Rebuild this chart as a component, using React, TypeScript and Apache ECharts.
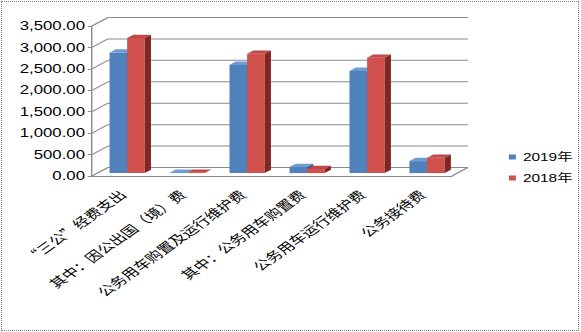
import React, { useEffect, useRef } from "react";
import * as echarts from "echarts";

// Spending items and amounts (万元) for the two years
const categories = [
  "“三公”经费支出",
  "其中：因公出国（境）费",
  "公务用车购置及运行维护费",
  "其中：公务用车购置费",
  "公务用车运行维护费",
  "公务接待费",
];
const values2019 = [2810, 5, 2525, 140, 2385, 280];
const values2018 = [3150, 8, 2785, 95, 2690, 357];
const seriesNames = ["2019年", "2018年"];
const yMax = 3500;
const yStep = 500;

// The whole chart is drawn narrow and then stretched sideways
const STRETCH = 1.4;
const OUT_W = 581;
const OUT_H = 332;
const IN_W = OUT_W / STRETCH;

// 3D look: depth of the back wall, bar inset and bar depth
const WALL_DX = 11.4;
const WALL_DY = -8.5;
const BAR_FX = 3.7;
const BAR_FY = -2.9;
const BAR_DX = 4.4;
const BAR_DY = -3.3;

const FONT = "'Liberation Sans', Arial, 'Noto Sans CJK SC', sans-serif";
const CJK_FONT = "'Noto Sans CJK SC', sans-serif";
const GRID_COLOR = "#8a8a8a";

const palettes = [
  { front: "#4F81BD", top: "#6f9bd3", side: "#345f93" },
  { front: "#D0504D", top: "#c04845", side: "#7e2725" },
];

const yTicks: number[] = [];
for (let v = 0; v <= yMax; v += yStep) yTicks.push(v);

function barRenderer(seriesIdx: number) {
  const pal = palettes[seriesIdx];
  return (params: any, api: any) => {
    const i = api.value(0);
    const v = api.value(1);
    const base = api.coord([i, 0]);
    const top = api.coord([i, v]);
    const band = api.size([1, 0])[0];
    const w = band * 0.294;
    const x0 = base[0] + (seriesIdx === 0 ? -w : 0) + BAR_FX;
    const x1 = x0 + w;
    const yb = base[1] + BAR_FY;
    const yt = top[1] + BAR_FY;
    return {
      type: "group",
      children: [
        {
          type: "rect",
          shape: { x: x0, y: yt, width: w, height: Math.max(yb - yt, 0) },
          style: { fill: pal.front },
        },
        {
          type: "polygon",
          shape: {
            points: [
              [x0, yt],
              [x1, yt],
              [x1 + BAR_DX, yt + BAR_DY],
              [x0 + BAR_DX, yt + BAR_DY],
            ],
          },
          style: { fill: pal.top },
        },
        {
          type: "polygon",
          shape: {
            points: [
              [x1, yt],
              [x1 + BAR_DX, yt + BAR_DY],
              [x1 + BAR_DX, yb + BAR_DY],
              [x1, yb],
            ],
          },
          style: { fill: pal.side },
        },
      ],
    };
  };
}

function wallRenderer(params: any, api: any) {
  const cs = params.coordSys;
  const v = api.value(1);
  const y = api.coord([0, v])[1];
  const lineStyle = { stroke: GRID_COLOR, lineWidth: 1 };
  const children: any[] = [
    {
      type: "line",
      shape: { x1: cs.x, y1: y, x2: cs.x + WALL_DX, y2: y + WALL_DY },
      style: lineStyle,
    },
    {
      type: "line",
      shape: {
        x1: cs.x + WALL_DX,
        y1: y + WALL_DY,
        x2: cs.x + cs.width + WALL_DX,
        y2: y + WALL_DY,
      },
      style: lineStyle,
    },
  ];
  if (v === 0) {
    children.push({
      type: "line",
      shape: {
        x1: cs.x + cs.width,
        y1: y,
        x2: cs.x + cs.width + WALL_DX,
        y2: y + WALL_DY,
      },
      style: lineStyle,
    });
  }
  return { type: "group", children };
}

function formatAmount(v: number) {
  return v.toLocaleString("en-US", {
    minimumFractionDigits: 2,
    maximumFractionDigits: 2,
  });
}

export default function App() {
  const ref = useRef<HTMLDivElement>(null);

  useEffect(() => {
    if (!ref.current) return;
    const chart = echarts.init(ref.current, null, {
      renderer: "svg",
      width: IN_W,
      height: OUT_H,
    });
    chart.setOption({
      animation: false,
      textStyle: { fontFamily: FONT },
      grid: { left: 65.7, top: 26, width: 257.1, height: 150 },
      legend: {
        orient: "vertical",
        left: 358.5,
        top: 146.5,
        itemWidth: 5,
        itemHeight: 5,
        itemGap: 10,
        icon: "rect",
        textStyle: { fontSize: 11, color: "#000", fontFamily: FONT },
        data: seriesNames,
      },
      xAxis: {
        type: "category",
        data: categories,
        axisLine: { lineStyle: { color: GRID_COLOR, width: 1 } },
        axisTick: { length: 4, lineStyle: { color: GRID_COLOR } },
        axisLabel: {
          rotate: 45,
          margin: 16,
          interval: 0,
          fontSize: 12,
          color: "#000",
          fontFamily: CJK_FONT,
        },
      },
      yAxis: {
        type: "value",
        min: 0,
        max: yMax,
        interval: yStep,
        axisLine: { show: true, lineStyle: { color: GRID_COLOR, width: 1 } },
        axisTick: { show: true, length: 3, lineStyle: { color: GRID_COLOR } },
        splitLine: { show: false },
        axisLabel: {
          margin: 5,
          fontSize: 12,
          color: "#000",
          fontFamily: FONT,
          formatter: formatAmount,
        },
      },
      series: [
        {
          type: "custom",
          name: "wall",
          silent: true,
          clip: false,
          z: 1,
          renderItem: wallRenderer,
          encode: { x: 0, y: 1 },
          data: yTicks.map((v) => [0, v]),
        },
        {
          type: "custom",
          name: seriesNames[0],
          clip: false,
          z: 2,
          itemStyle: { color: palettes[0].front },
          renderItem: barRenderer(0),
          encode: { x: 0, y: 1 },
          data: values2019.map((v, i) => [i, v]),
        },
        {
          type: "custom",
          name: seriesNames[1],
          clip: false,
          z: 3,
          itemStyle: { color: palettes[1].front },
          renderItem: barRenderer(1),
          encode: { x: 0, y: 1 },
          data: values2018.map((v, i) => [i, v]),
        },
      ],
    });
    return () => chart.dispose();
  }, []);

  return (
    <div
      style={{
        position: "fixed",
        left: 0,
        top: 0,
        width: OUT_W,
        height: OUT_H,
        overflow: "hidden",
        background: "#fff",
      }}
    >
      <div
        ref={ref}
        style={{
          position: "absolute",
          left: 0,
          top: 0,
          width: IN_W,
          height: OUT_H,
          transform: `scaleX(${STRETCH})`,
          transformOrigin: "0 0",
        }}
      />
      <div
        style={{
          position: "absolute",
          left: 1,
          top: 1,
          width: OUT_W - 3,
          height: OUT_H - 2,
          boxSizing: "border-box",
          border: "1px dotted #7a7a7a",
          pointerEvents: "none",
        }}
      />
    </div>
  );
}
